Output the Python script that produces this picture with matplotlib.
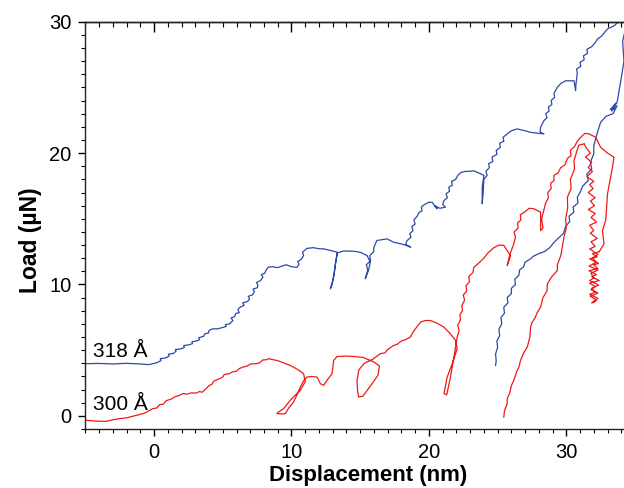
import matplotlib
matplotlib.use("Agg")
import matplotlib.pyplot as plt
from matplotlib.ticker import MultipleLocator

# (displacement nm, load uN)

# 318 A film
blue_load = [
    (-4.96, 3.97), (-4.0, 3.99), (-3.0, 3.95), (-2.0, 4.0), (-1.0, 3.95), (-0.4, 3.9), (-0.1, 3.97),
    (0.2, 4.05), (0.5, 4.2), (0.45, 4.35), (0.8, 4.4), (1.1, 4.55), (1.05, 4.7), (1.4, 4.75),
    (1.6, 4.93), (1.55, 5.05), (1.95, 5.1), (2.2, 5.2), (2.15, 5.35), (2.5, 5.4), (2.8, 5.5),
    (2.75, 5.65), (3.1, 5.7), (3.3, 5.8), (3.25, 5.95), (3.6, 6.05), (3.7, 6.25), (3.95, 6.3),
    (4.0, 6.5), (4.27, 6.63), (4.6, 6.62), (4.9, 6.7), (5.25, 6.8), (5.2, 6.95), (5.5, 7.0),
    (5.74, 7.26), (5.6, 7.45), (5.85, 7.55), (5.95, 7.8), (6.2, 7.85), (6.1, 8.1), (6.3, 8.3),
    (6.55, 8.4), (6.45, 8.6), (6.8, 8.7), (6.95, 8.91), (6.85, 9.1), (7.15, 9.2), (7.3, 9.45),
    (7.2, 9.65), (7.5, 9.75), (7.56, 9.95), (7.45, 10.15), (7.75, 10.3), (7.92, 10.55), (7.8, 10.75),
    (8.05, 10.85), (8.15, 11.1), (8.3, 11.31), (8.6, 11.35), (9.0, 11.28), (9.3, 11.4), (9.62, 11.5),
    (10.0, 11.35), (10.4, 11.3), (10.55, 11.55), (10.45, 11.75), (10.7, 11.9), (10.88, 12.2),
    (10.8, 12.45), (11.13, 12.75), (11.6, 12.8), (12.0, 12.72), (12.34, 12.71), (12.8, 12.6),
    (13.32, 12.46), (13.2, 11.57), (13.07, 10.56), (12.95, 10.0), (12.83, 9.67), (12.95, 10.1),
    (13.1, 10.8), (13.2, 11.6), (13.35, 12.4), (13.8, 12.55), (14.53, 12.53), (15.0, 12.45),
    (15.5, 12.2), (15.74, 11.7), (15.6, 11.06), (15.37, 10.43), (15.55, 11.1), (15.45, 11.5),
    (15.75, 11.8), (15.7, 12.2), (15.98, 12.5), (16.0, 12.84), (16.22, 13.35), (16.95, 13.47),
    (17.43, 13.22), (17.93, 13.1), (18.3, 13.0), (18.66, 12.84), (18.3, 13.05), (18.42, 13.35),
    (18.7, 13.6), (18.6, 13.86), (18.85, 14.1), (18.75, 14.4), (19.0, 14.6), (18.9, 14.9),
    (19.15, 15.2), (19.3, 15.5), (19.5, 15.6), (19.45, 15.9), (19.7, 16.1), (20.0, 16.26),
    (20.23, 16.26), (20.6, 15.76), (20.4, 16.0), (20.8, 15.8), (21.2, 15.88), (21.0, 16.1),
    (21.1, 16.39), (21.35, 16.6), (21.25, 16.9), (21.5, 17.1), (21.45, 17.4), (21.7, 17.55),
    (21.65, 17.85), (21.95, 18.0), (22.1, 18.3), (22.3, 18.5), (22.6, 18.6), (23.0, 18.62),
    (23.27, 18.65), (23.6, 18.5), (24.0, 18.3), (23.88, 17.4), (23.88, 16.14), (23.95, 17.0),
    (24.0, 18.0), (24.24, 18.3), (24.15, 18.6), (24.4, 18.9), (24.35, 19.2), (24.65, 19.35),
    (24.6, 19.7), (24.95, 19.9), (24.9, 20.2), (25.2, 20.44), (25.15, 20.75), (25.45, 20.9),
    (25.4, 21.2), (25.7, 21.46), (26.0, 21.7), (26.43, 21.84), (27.0, 21.7), (27.4, 21.58),
    (28.0, 21.5), (28.37, 21.46), (28.1, 21.6), (28.13, 21.96), (28.37, 22.47), (28.6, 22.7),
    (28.5, 23.0), (28.75, 23.2), (28.7, 23.5), (28.95, 23.7), (28.9, 24.0), (29.15, 24.25),
    (29.1, 24.55), (29.35, 25.0), (29.6, 25.3), (29.95, 25.5), (30.56, 25.5), (30.68, 24.75),
    (30.7, 25.2), (30.8, 26.1), (30.75, 26.4), (31.05, 26.6), (31.0, 26.9), (31.3, 27.1),
    (31.25, 27.4), (31.55, 27.6), (31.5, 27.9), (31.85, 28.1), (32.1, 28.4), (32.27, 28.68),
    (32.6, 28.93), (32.8, 29.2), (33.0, 29.45), (33.3, 29.6), (33.5, 29.7), (33.7, 29.9),
    (34.0, 30.0), (34.4, 29.9),
]
blue_unload = [
    (34.4, 29.9), (34.1, 28.5), (34.2, 27.0), (33.95, 25.4), (33.7, 23.87), (33.47, 23.5),
    (33.2, 23.3), (33.6, 23.8), (33.3, 23.2), (33.7, 23.6), (33.4, 23.0), (32.9, 22.8),
    (32.5, 22.35), (32.27, 21.58), (32.0, 20.57), (32.0, 19.94), (31.75, 19.3), (31.85, 18.8),
    (31.5, 18.4), (31.6, 17.9), (31.2, 17.5), (31.0, 17.0), (30.8, 16.64), (30.85, 16.2),
    (30.5, 15.9), (30.55, 15.5), (30.2, 15.2), (30.25, 14.8), (29.95, 14.4), (29.8, 13.9),
    (29.5, 13.6), (29.1, 13.2), (28.8, 12.8), (28.4, 12.5), (28.0, 12.35), (27.6, 12.15),
    (27.4, 11.95), (27.0, 11.7), (26.9, 11.35), (26.6, 11.1), (26.55, 10.7), (26.25, 10.4),
    (26.3, 10.0), (26.0, 9.7), (26.0, 9.3), (25.7, 9.0), (25.75, 8.6), (25.45, 8.27),
    (25.5, 7.8), (25.25, 7.5), (25.3, 7.0), (25.1, 6.6), (25.15, 6.1), (24.95, 5.7),
    (25.0, 5.2), (24.85, 4.7), (24.9, 4.2), (24.85, 3.84),
]

# 300 A film
red_load = [
    (-4.96, -0.34), (-4.2, -0.4), (-3.5, -0.42), (-3.0, -0.3), (-2.53, -0.21), (-2.0, -0.15),
    (-1.31, 0.04), (-0.7, 0.2), (-0.1, 0.55), (0.2, 0.6), (0.4, 0.85), (0.7, 0.9), (0.87, 1.15),
    (1.3, 1.3), (1.5, 1.45), (1.84, 1.56), (2.1, 1.7), (2.4, 1.65), (2.7, 1.75), (3.06, 1.73),
    (3.3, 1.85), (3.5, 1.8), (3.79, 2.07), (4.0, 2.3), (4.2, 2.4), (4.35, 2.65), (4.76, 2.83),
    (5.0, 2.95), (5.1, 3.15), (5.49, 3.21), (5.7, 3.35), (6.0, 3.4), (6.2, 3.6), (6.46, 3.71),
    (6.8, 3.8), (7.0, 3.95), (7.43, 3.97), (7.7, 4.05), (7.9, 4.25), (8.16, 4.27), (8.33, 4.35),
    (9.0, 4.2), (9.91, 3.84), (10.5, 3.5), (10.88, 3.21), (11.0, 2.6), (10.64, 1.94), (10.2, 1.5),
    (9.91, 1.18), (9.42, 0.55), (9.0, 0.25), (8.94, 0.17), (9.3, 0.15), (9.54, 0.17), (9.8, 0.6),
    (10.15, 1.05), (10.4, 1.6), (10.64, 2.19), (10.9, 2.7), (11.13, 2.95), (11.5, 3.0),
    (11.86, 2.95), (12.1, 2.45), (12.34, 2.32), (12.58, 2.7), (12.95, 3.21), (13.07, 4.22),
    (13.32, 4.52), (14.0, 4.55), (14.53, 4.52), (15.2, 4.45), (15.62, 4.27), (16.0, 4.1),
    (16.4, 3.8), (16.3, 3.1), (15.9, 2.5), (15.2, 1.5), (14.89, 1.43), (14.8, 2.0), (14.77, 2.7),
    (14.9, 3.5), (15.3, 4.0), (15.9, 4.3), (16.47, 4.73), (16.8, 4.8), (17.0, 5.05), (17.43, 5.36),
    (17.7, 5.45), (18.0, 5.7), (18.3, 5.8), (18.66, 6.0), (18.8, 6.3), (19.0, 6.6), (19.39, 7.13),
    (19.7, 7.25), (20.1, 7.26), (20.6, 7.05), (21.1, 6.75), (21.6, 6.2), (21.94, 5.74),
    (22.06, 5.11), (21.7, 3.97), (21.33, 2.95), (21.1, 1.69), (21.3, 1.6), (21.57, 2.95),
    (21.82, 4.47), (22.06, 6.0), (22.2, 6.5), (22.1, 6.9), (22.3, 7.3), (22.25, 7.7), (22.45, 8.0),
    (22.4, 8.4), (22.6, 8.8), (22.5, 9.2), (22.75, 9.5), (22.7, 9.9), (22.95, 10.2), (22.9, 10.6),
    (23.2, 10.9), (23.27, 11.3), (23.6, 11.6), (24.0, 12.0), (24.3, 12.4), (24.73, 12.8),
    (25.1, 13.0), (25.45, 12.97), (25.94, 12.2), (25.7, 11.44), (25.9, 12.3), (26.18, 13.1),
    (26.3, 13.6), (26.2, 14.0), (26.5, 14.3), (26.45, 14.7), (26.7, 14.9), (26.65, 15.3),
    (26.95, 15.5), (27.3, 15.8), (27.65, 15.76), (28.13, 15.5), (28.13, 14.1), (28.3, 14.3),
    (28.2, 15.0), (28.5, 16.2), (28.7, 16.6), (28.65, 17.0), (28.9, 17.3), (28.85, 17.7),
    (29.1, 17.9), (29.1, 18.3), (29.4, 18.5), (29.6, 18.9), (29.9, 19.1), (30.08, 19.6),
    (30.35, 19.8), (30.3, 20.2), (30.6, 20.5), (30.8, 20.9), (31.05, 21.2), (31.35, 21.5),
    (31.66, 21.46), (32.14, 21.2), (32.5, 20.44), (33.0, 20.0), (33.47, 19.68), (33.36, 18.92),
    (33.0, 16.9), (32.87, 14.87), (32.63, 14.1), (32.75, 13.1), (32.4, 12.5),
]
red_band = [
    (32.4, 12.5), (31.9, 12.35), (32.25, 12.1), (31.7, 11.95), (32.35, 11.6), (32.0, 11.5),
    (32.3, 11.2), (31.65, 11.05), (32.2, 10.75), (31.85, 10.6), (32.4, 10.3), (31.7, 10.1),
    (32.1, 9.85), (31.8, 9.6), (32.3, 9.35), (31.75, 9.1), (32.15, 8.85), (31.85, 8.6),
    (32.05, 8.65), (32.3, 8.95), (31.7, 9.25), (32.1, 9.4), (31.85, 9.7), (32.35, 9.95),
    (31.7, 10.3), (32.0, 10.5), (31.8, 10.85), (32.3, 11.1), (31.65, 11.4), (32.2, 11.7),
    (31.9, 12.0), (32.3, 12.3), (31.7, 12.7), (32.1, 12.9), (31.8, 13.25), (32.25, 13.5),
    (31.75, 13.9), (32.0, 14.1), (31.7, 14.5), (32.2, 14.75), (31.8, 15.1), (32.1, 15.4),
    (31.6, 15.7), (32.05, 16.0), (31.75, 16.35), (32.1, 16.6), (31.6, 17.0), (31.95, 17.3),
    (31.7, 17.6), (32.0, 17.85), (31.5, 18.2), (31.9, 18.6), (31.6, 18.9), (31.85, 19.3),
    (31.4, 19.7), (31.75, 20.0), (31.45, 20.4), (31.3, 20.7),
]
red_unload = [
    (31.3, 20.7), (30.9, 20.6), (30.56, 19.43), (30.6, 18.8), (30.3, 18.0), (30.35, 17.3),
    (30.08, 16.64), (30.1, 15.8), (29.95, 15.0), (30.0, 14.3), (29.83, 13.6), (29.7, 12.8),
    (29.6, 12.2), (29.35, 11.5), (29.35, 11.06), (28.95, 10.6), (28.62, 10.05), (28.6, 9.5),
    (28.3, 9.0), (28.13, 8.27), (27.9, 7.9), (27.7, 7.4), (27.5, 7.1), (27.4, 6.75), (27.35, 6.0),
    (27.16, 5.23), (26.9, 4.8), (26.67, 4.22), (26.55, 3.7), (26.4, 3.4), (26.18, 2.7),
    (26.0, 2.3), (25.9, 1.8), (25.7, 1.3), (25.7, 0.93), (25.5, 0.4), (25.45, -0.1),
]

labels = ["318 Å", "300 Å"]
label_pos = [(-4.45, 4.5), (-4.45, 0.42)]

plt.rcParams["font.family"] = ["Liberation Sans", "DejaVu Sans"]

fig = plt.figure(figsize=(6.24, 4.88), dpi=100)
ax = fig.add_axes([85.4 / 624, 1 - 429 / 488, (624 - 85.4) / 624, (429 - 21.7) / 488])

for seg in [blue_load, blue_unload]:
    xs, ys = zip(*seg)
    ax.plot(xs, ys, color="#2b4aa6", lw=0.9)
for seg in [red_load, red_band, red_unload]:
    xs, ys = zip(*seg)
    ax.plot(xs, ys, color="#f01818", lw=0.9)

for txt, (tx, ty) in zip(labels, label_pos):
    ax.text(tx, ty, txt, fontsize=15, ha="left", va="baseline")

ax.set_xlim(-5, 34.2)
ax.set_ylim(-1, 30)
ax.xaxis.set_major_locator(MultipleLocator(10))
ax.xaxis.set_minor_locator(MultipleLocator(1))
ax.yaxis.set_major_locator(MultipleLocator(10))
ax.yaxis.set_minor_locator(MultipleLocator(1))

ax.spines["right"].set_visible(False)
for s in ["left", "bottom", "top"]:
    ax.spines[s].set_linewidth(1.0)
    ax.spines[s].set_color("#222222")

ax.tick_params(which="major", direction="out", length=5, width=1.0, labelsize=14.5, pad=5)
ax.tick_params(which="minor", direction="out", length=3, width=0.8)

top = ax.secondary_xaxis("top")
top.xaxis.set_major_locator(MultipleLocator(10))
top.xaxis.set_minor_locator(MultipleLocator(1))
top.tick_params(which="major", direction="in", length=7, width=1.0, labeltop=False)
top.tick_params(which="minor", direction="in", length=3.5, width=0.8)
top.spines["top"].set_linewidth(1.0)

ax.set_xlabel("Displacement (nm)", fontsize=16, fontweight="bold", va="baseline")
ax.set_ylabel("Load (µN)", fontsize=16.5, fontweight="bold")
ax.xaxis.set_label_coords(0.524, -0.128)
ax.yaxis.set_label_coords(-0.0815, 0.464)

fig.savefig("out.png", dpi=100)
